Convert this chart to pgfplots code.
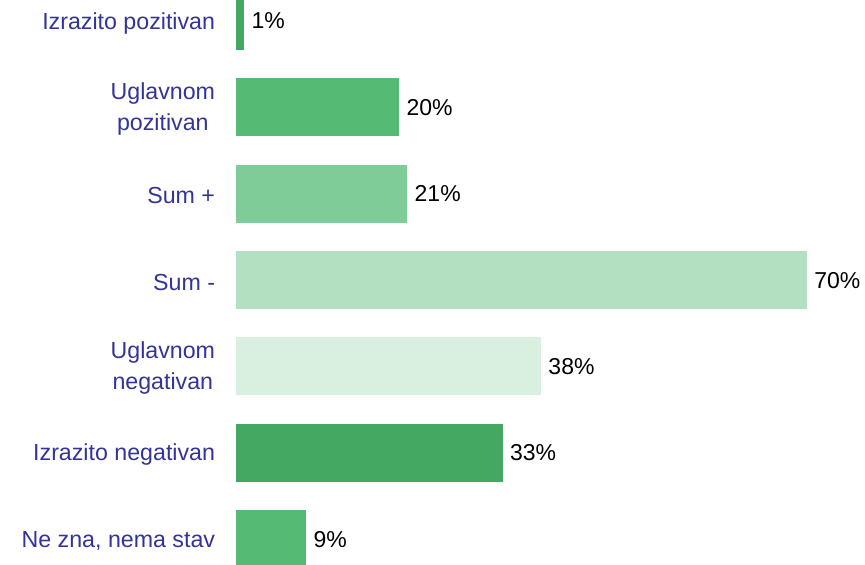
\documentclass[border=0pt]{standalone}
\usepackage{pgfplots}
\pgfplotsset{compat=1.18}
\usepackage{fontspec}
\setmainfont{Liberation Sans}

\definecolor{labblue}{RGB}{51,51,153}
\definecolor{gDark}{RGB}{68,168,98}
\definecolor{gMid}{RGB}{85,186,115}
\definecolor{gLight}{RGB}{128,204,153}
\definecolor{gPale}{RGB}{178,224,192}
\definecolor{gFaint}{RGB}{217,240,224}

\begin{document}
\begin{tikzpicture}
\useasboundingbox (0,0) rectangle (432.5pt,282.5pt);
\begin{axis}[
  at={(118pt,0pt)}, anchor=south west,
  scale only axis,
  width=285.5pt, height=282.5pt,
  xbar, bar shift=0pt, bar width=29pt,
  xmin=0, xmax=70,
  ymin=-0.244, ymax=6.30,
  y dir=reverse,
  clip=false,
  axis line style={draw=none},
  tick style={draw=none},
  xtick=\empty,
  ytick={0,1,2,3,4,5,6},
  yticklabels={Izrazito pozitivan, {Uglavnom\\pozitivan}, Sum +, Sum -,
    {Uglavnom\\negativan}, Izrazito negativan, {Ne zna, nema stav}},
  yticklabel style={font=\fontsize{11.6}{15.5}\selectfont, text=labblue,
    align=center, inner sep=0pt, xshift=-6pt, yshift=-1pt},
  point meta=explicit symbolic,
  nodes near coords,
  every node near coord/.append style={font=\fontsize{11.5}{13.5}\selectfont,
    text=black, anchor=west, inner sep=0pt, xshift=3.5pt},
]
\addplot[draw=none, fill=gDark]  coordinates {(1.0,0) [1\%]};
\addplot[draw=none, fill=gMid]   coordinates {(20,1) [20\%]};
\addplot[draw=none, fill=gLight] coordinates {(21,2) [21\%]};
\addplot[draw=none, fill=gPale]  coordinates {(70,3) [70\%]};
\addplot[draw=none, fill=gFaint] coordinates {(37.4,4) [38\%]};
\addplot[draw=none, fill=gDark]  coordinates {(32.7,5) [33\%]};
\addplot[draw=none, fill=gMid]   coordinates {(8.6,6) [9\%]};
\end{axis}
\end{tikzpicture}
\end{document}
